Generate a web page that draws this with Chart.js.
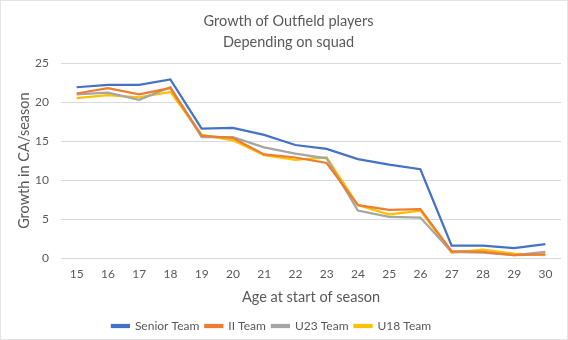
<!DOCTYPE html>
<html>
<head>
<meta charset="utf-8">
<script src="https://cdn.jsdelivr.net/npm/chart.js@4/dist/chart.umd.min.js"></script>
<style>
html,body{margin:0;padding:0;background:#fff;}
#wrap{position:relative;width:568px;height:340px;box-sizing:border-box;border:1px solid #e4e4e4;}
canvas{display:block;}
</style>
</head>
<body>
<div id="wrap"><canvas id="c" width="566" height="338"></canvas></div>
<script>
const ages = ["15","16","17","18","19","20","21","22","23","24","25","26","27","28","29","30"];
const seniorTeam = [21.9,22.2,22.2,22.9,16.6,16.7,15.8,14.5,14.0,12.7,12.0,11.4,1.6,1.6,1.3,1.8];
const iiTeam     = [21.1,21.8,21.0,21.8,15.7,15.4,13.3,12.9,12.2,6.8,6.2,6.3,0.9,0.8,0.4,0.5];
const u23Team    = [21.0,21.2,20.3,21.9,15.5,15.5,14.2,13.4,12.8,6.1,5.3,5.2,0.8,0.7,0.4,0.8];
const u18Team    = [20.5,20.9,20.6,21.3,15.8,15.1,13.2,12.6,12.9,6.8,5.6,6.1,0.7,1.1,0.6,0.4];
const yTicks = [0,5,10,15,20,25];

const FONT = "Lato, 'Liberation Sans', sans-serif";
const GREY = "#595959";

function ds(label, data, color){
  return {label, data, borderColor: color, backgroundColor: color, borderWidth: 2.25,
          pointRadius: 0, tension: 0, fill: false};
}

const shiftLegend = {
  id: 'shiftLegend',
  afterLayout(chart){
    if (chart.legend){ chart.legend.left -= 17; chart.legend.right -= 17; }
  }
};

new Chart(document.getElementById('c'), {
  type: 'line',
  data: {
    labels: ages,
    datasets: [
      ds('Senior Team', seniorTeam, '#4472C4'),
      ds('II Team', iiTeam, '#ED7D31'),
      ds('U23 Team', u23Team, '#A5A5A5'),
      ds('U18 Team', u18Team, '#FFC000')
    ]
  },
  plugins: [shiftLegend],
  options: {
    responsive: false,
    animation: false,
    layout: {padding: {left: 15, right: 6, top: 4, bottom: -3}},
    plugins: {
      title: {
        display: true,
        text: ['Growth of Outfield players', 'Depending on squad'],
        color: GREY,
        font: {family: FONT, size: 14.5, weight: 'normal', lineHeight: 1.45},
        padding: {top: 6, bottom: 10}
      },
      legend: {
        position: 'bottom',
        labels: {
          color: GREY,
          font: {family: FONT, size: 12},
          boxWidth: 17, boxHeight: 2, padding: 6
        }
      },
      tooltip: {enabled: false}
    },
    scales: {
      x: {
        offset: true,
        grid: {display: false, drawTicks: false},
        border: {display: false},
        ticks: {color: GREY, font: {family: FONT, size: 12}, padding: 9, maxRotation: 0},
        title: {display: true, text: 'Age at start of season', color: GREY,
                font: {family: FONT, size: 14.5}, padding: {top: -2, bottom: 8}}
      },
      y: {
        min: 0, max: 25,
        afterBuildTicks: (axis) => { axis.ticks = yTicks.map(v => ({value: v})); },
        afterFit: (axis) => { axis.width = 45; },
        grid: {color: '#D9D9D9', drawTicks: false},
        border: {display: false},
        ticks: {color: GREY, font: {family: FONT, size: 12}, padding: 12},
        title: {display: true, text: 'Growth in CA/season', color: GREY,
                font: {family: FONT, size: 14.5}, padding: {top: 0, bottom: 2}}
      }
    }
  }
});
</script>
</body>
</html>
